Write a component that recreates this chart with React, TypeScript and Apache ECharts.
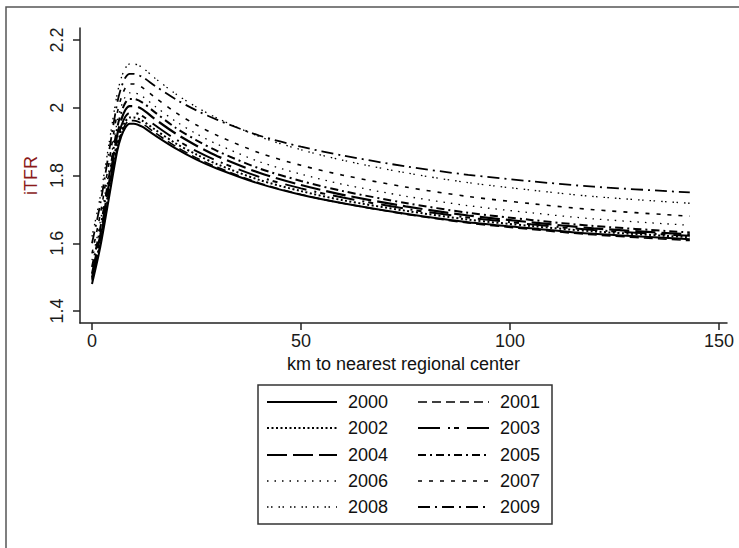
import React, { useEffect, useRef } from "react";
import * as echarts from "echarts";

const years = ["2000", "2001", "2002", "2003", "2004", "2005", "2006", "2007", "2008", "2009"];
const km = [0, 2, 4, 6, 7, 8, 9, 10, 12, 15, 20, 25, 30, 40, 50, 60, 75, 90, 105, 120, 143];

const itfr2000 = [1.48, 1.59, 1.73, 1.87, 1.915, 1.942, 1.953, 1.953, 1.944, 1.919, 1.88, 1.847, 1.82, 1.776, 1.743, 1.718, 1.687, 1.662, 1.644, 1.628, 1.612];
const itfr2001 = [1.49, 1.6, 1.74, 1.879, 1.924, 1.951, 1.962, 1.962, 1.953, 1.927, 1.886, 1.852, 1.824, 1.778, 1.744, 1.718, 1.686, 1.66, 1.641, 1.625, 1.608];
const itfr2002 = [1.495, 1.606, 1.747, 1.887, 1.933, 1.96, 1.971, 1.971, 1.962, 1.936, 1.895, 1.862, 1.833, 1.787, 1.754, 1.727, 1.696, 1.67, 1.651, 1.635, 1.618];
const itfr2003 = [1.5, 1.613, 1.757, 1.9, 1.946, 1.974, 1.985, 1.985, 1.976, 1.949, 1.907, 1.872, 1.843, 1.796, 1.762, 1.735, 1.702, 1.676, 1.656, 1.639, 1.622];
const itfr2004 = [1.51, 1.625, 1.772, 1.918, 1.965, 1.994, 2.005, 2.005, 1.996, 1.967, 1.924, 1.888, 1.857, 1.808, 1.772, 1.743, 1.709, 1.682, 1.662, 1.644, 1.626];
const itfr2005 = [1.53, 1.646, 1.792, 1.939, 1.986, 2.015, 2.026, 2.026, 2.016, 1.987, 1.941, 1.904, 1.872, 1.821, 1.784, 1.754, 1.719, 1.69, 1.669, 1.651, 1.632];
const itfr2006 = [1.55, 1.665, 1.811, 1.957, 2.004, 2.033, 2.044, 2.044, 2.034, 2.005, 1.96, 1.923, 1.892, 1.841, 1.804, 1.774, 1.739, 1.711, 1.69, 1.672, 1.653];
const itfr2007 = [1.57, 1.687, 1.835, 1.982, 2.03, 2.059, 2.07, 2.07, 2.06, 2.031, 1.986, 1.949, 1.918, 1.867, 1.83, 1.801, 1.766, 1.738, 1.717, 1.699, 1.68];
const itfr2008 = [1.62, 1.739, 1.889, 2.039, 2.088, 2.117, 2.129, 2.129, 2.119, 2.088, 2.041, 2.002, 1.969, 1.915, 1.876, 1.845, 1.808, 1.779, 1.757, 1.738, 1.718];
const itfr2009 = [1.6, 1.717, 1.865, 2.012, 2.06, 2.089, 2.1, 2.1, 2.091, 2.065, 2.025, 1.992, 1.964, 1.918, 1.885, 1.859, 1.827, 1.802, 1.783, 1.767, 1.75];

const seriesValues = [itfr2000, itfr2001, itfr2002, itfr2003, itfr2004, itfr2005, itfr2006, itfr2007, itfr2008, itfr2009];

const xTicks = [0, 50, 100, 150];
const yTicks = [1.4, 1.6, 1.8, 2, 2.2];

const xTitle = "km to nearest regional center";
const yTitle = "iTFR";

// line styles (dash patterns / widths) per year
const lineStyles: { dash: number[] | "solid"; width: number }[] = [
  { dash: "solid", width: 2 },
  { dash: [9, 5], width: 1.6 },
  { dash: [2, 2.5], width: 2 },
  { dash: [22, 8, 2, 4, 5, 8], width: 2 },
  { dash: [20, 6], width: 2.2 },
  { dash: [8, 4, 2, 4], width: 2 },
  { dash: [1.5, 6], width: 1.3 },
  { dash: [4, 7], width: 1.6 },
  { dash: [1.5, 2.5, 1.5, 6], width: 1.3 },
  { dash: [12, 5, 2, 5], width: 1.8 },
];

const FONT = "'Liberation Sans', Arial, sans-serif";

export default function App() {
  const ref = useRef<HTMLDivElement>(null);

  useEffect(() => {
    if (!ref.current) return;
    const chart = echarts.init(ref.current, undefined, { renderer: "svg" });

    const series = years.map((y, i) => ({
      name: y,
      type: "line",
      data: km.map((k, j) => [k, seriesValues[i][j]]),
      symbol: "none",
      smooth: 0.3,
      lineStyle: {
        color: "#000",
        width: lineStyles[i].width,
        type: lineStyles[i].dash,
      },
      z: 10 - i,
    }));

    // legend drawn with graphic
    const legendEls: any[] = [
      {
        type: "rect",
        shape: { x: 258, y: 385, width: 294, height: 139 },
        style: { fill: "#fff", stroke: "#333", lineWidth: 1.5 },
      },
    ];
    const colLine = [[267, 337], [418, 489]];
    const colText = [348, 500];
    const rowY = [402, 428, 455, 481, 507];
    years.forEach((y, i) => {
      const col = i % 2;
      const row = Math.floor(i / 2);
      const ls = lineStyles[i];
      legendEls.push({
        type: "line",
        shape: { x1: colLine[col][0], y1: rowY[row], x2: colLine[col][1], y2: rowY[row] },
        style: {
          stroke: "#000",
          lineWidth: ls.width,
          lineDash: ls.dash === "solid" ? null : ls.dash,
        },
      });
      legendEls.push({
        type: "text",
        style: {
          text: y,
          x: colText[col],
          y: rowY[row],
          font: `18px ${FONT}`,
          fill: "#111",
          verticalAlign: "middle",
          align: "left",
        },
      });
    });

    chart.setOption({
      animation: false,
      backgroundColor: "#fff",
      grid: { left: 80, right: 12, top: 28, bottom: 225, containLabel: false },
      xAxis: {
        type: "value",
        min: -2.87,
        max: 151.9,
        name: xTitle,
        nameLocation: "middle",
        nameGap: 22,
        nameTextStyle: { fontFamily: FONT, fontSize: 18, color: "#111" },
        axisLine: { show: true, onZero: false, lineStyle: { color: "#222", width: 1.5 } },
        axisTick: { show: true, length: 7, customValues: xTicks, lineStyle: { color: "#222", width: 1.5 } },
        axisLabel: {
          customValues: xTicks,
          margin: 9,
          fontFamily: FONT,
          fontSize: 18,
          color: "#1a1a1a",
        },
        splitLine: { show: false },
      },
      yAxis: {
        type: "value",
        min: 1.3647,
        max: 2.2353,
        name: yTitle,
        nameLocation: "middle",
        nameGap: 37,
        nameRotate: 90,
        nameTextStyle: { fontFamily: FONT, fontSize: 18, color: "#8b1a1a" },
        axisLine: { show: true, onZero: false, lineStyle: { color: "#222", width: 1.5 } },
        axisTick: { show: true, length: 7, customValues: yTicks, lineStyle: { color: "#222", width: 1.5 } },
        axisLabel: {
          customValues: yTicks,
          rotate: 90,
          margin: 14,
          fontFamily: FONT,
          fontSize: 18,
          color: "#1a1a1a",
          formatter: (v: number) => String(Math.round(v * 10) / 10),
        },
        splitLine: { show: false },
      },
      series,
      graphic: [
        {
          type: "rect",
          shape: { x: 6, y: 7, width: 780, height: 600 },
          style: { fill: "none", stroke: "#555", lineWidth: 1.5 },
          silent: true,
        },
        ...legendEls,
      ],
    });

    return () => chart.dispose();
  }, []);

  return (
    <div
      ref={ref}
      style={{ position: "fixed", left: 0, top: 0, width: 739, height: 548 }}
    />
  );
}
